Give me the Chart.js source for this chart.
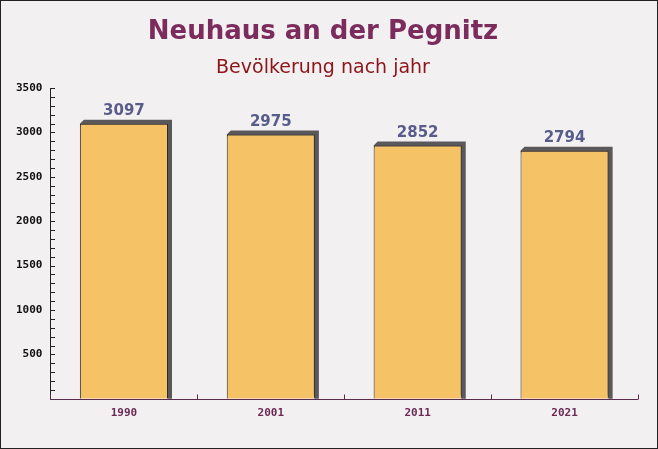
<!DOCTYPE html>
<html>
<head>
<meta charset="utf-8">
<script src="https://cdn.jsdelivr.net/npm/chart.js@4/dist/chart.umd.min.js"></script>
<style>
html,body{margin:0;padding:0;background:#f3f0f2;}
#wrap{width:658px;height:449px;position:relative;}
</style>
</head>
<body>
<div id="wrap"><canvas id="c" width="658" height="449"></canvas></div>
<script>
const categories = ['1990', '2001', '2011', '2021'];
const population = [3097, 2975, 2852, 2794];
const yTickLabels = [500, 1000, 1500, 2000, 2500, 3000, 3500];

const decor = {
  id: 'decor',
  beforeDraw(chart) {
    const ctx = chart.ctx;
    ctx.save();
    ctx.fillStyle = '#f3f0f2';
    ctx.fillRect(0, 0, chart.width, chart.height);
    ctx.restore();
  },
  beforeDatasetsDraw(chart) {
    const ctx = chart.ctx;
    const meta = chart.getDatasetMeta(0);
    const d = 4;
    ctx.save();
    ctx.fillStyle = '#5b585c';
    meta.data.forEach(bar => {
      const l = bar.x - bar.width / 2, r = bar.x + bar.width / 2;
      const t = bar.y, b = bar.base;
      ctx.beginPath();
      ctx.moveTo(l, t);
      ctx.lineTo(l + d, t - d);
      ctx.lineTo(r + d, t - d);
      ctx.lineTo(r + d, b);
      ctx.lineTo(r, b);
      ctx.closePath();
      ctx.fill();
    });
    ctx.restore();
  },
  afterDatasetsDraw(chart) {
    const ctx = chart.ctx;
    const meta = chart.getDatasetMeta(0);
    ctx.save();
    ctx.fillStyle = '#575c8a';
    ctx.font = 'bold 15px "DejaVu Sans"';
    ctx.textAlign = 'center';
    ctx.textBaseline = 'bottom';
    meta.data.forEach((bar, i) => {
      ctx.fillText(String(population[i]), bar.x, bar.y - 5);
    });
    ctx.restore();
  },
  afterDraw(chart) {
    const ctx = chart.ctx;
    const ys = chart.scales.y, xs = chart.scales.x;
    const ax = ys.left + ys.width;
    const ay = xs.top;
    ctx.save();
    ctx.strokeStyle = '#222';
    ctx.lineWidth = 1;
    ctx.beginPath();
    ctx.moveTo(Math.round(ax) + 0.5, ys.getPixelForValue(3500));
    ctx.lineTo(Math.round(ax) + 0.5, ay);
    for (let v = 0; v <= 3500; v += 100) {
      const p = Math.round(ys.getPixelForValue(v)) + 0.5;
      ctx.moveTo(Math.round(ax), p);
      ctx.lineTo(Math.round(ax) + 5, p);
    }
    ctx.stroke();
    ctx.strokeStyle = '#5a2b4c';
    ctx.beginPath();
    const yy = Math.round(ay) + 0.5;
    ctx.moveTo(Math.round(ax), yy);
    ctx.lineTo(Math.round(xs.right), yy);
    const n = categories.length;
    const step = xs.getPixelForValue(1) - xs.getPixelForValue(0);
    for (let i = 0; i <= n; i++) {
      const px = Math.round(xs.getPixelForValue(0) - step / 2 + i * step) + 0.5;
      ctx.moveTo(px, yy);
      ctx.lineTo(px, yy - 5);
    }
    ctx.stroke();
    ctx.strokeStyle = '#222';
    ctx.strokeRect(0.5, 0.5, chart.width - 1, chart.height - 1);
    ctx.restore();
  }
};

new Chart(document.getElementById('c'), {
  type: 'bar',
  data: {
    labels: categories,
    datasets: [{
      data: population,
      backgroundColor: '#f6c266',
      borderColor: '#2e2a2b',
      borderWidth: 1,
      borderSkipped: 'bottom',
      barPercentage: 0.6,
      categoryPercentage: 1.0
    }]
  },
  options: {
    responsive: false,
    animation: false,
    devicePixelRatio: 1,
    layout: { padding: { top: 17, right: 20, left: 8, bottom: 21 } },
    plugins: {
      legend: { display: false },
      tooltip: { enabled: false },
      title: {
        display: true,
        text: 'Neuhaus an der Pegnitz',
        color: '#7b2c5c',
        font: { family: '"DejaVu Sans"', size: 26, weight: 'bold' },
        padding: { top: 0, bottom: 8 }
      },
      subtitle: {
        display: true,
        text: 'Bevölkerung nach jahr',
        color: '#8b1518',
        font: { family: '"DejaVu Sans"', size: 19 },
        padding: { top: 0, bottom: 9 }
      }
    },
    scales: {
      x: {
        grid: { display: false, drawTicks: false },
        border: { display: false },
        ticks: {
          color: '#6a2a55',
          font: { family: '"DejaVu Sans Mono"', size: 11, weight: 'bold' },
          padding: 8
        }
      },
      y: {
        min: 0,
        max: 3500,
        grid: { display: false, drawTicks: false },
        border: { display: false },
        afterBuildTicks(scale) {
          scale.ticks = yTickLabels.map(v => ({ value: v }));
        },
        ticks: {
          color: '#111',
          font: { family: '"DejaVu Sans Mono"', size: 11, weight: 'bold' },
          padding: 8,
          callback: v => String(v)
        }
      }
    }
  },
  plugins: [decor]
});
</script>
</body>
</html>
